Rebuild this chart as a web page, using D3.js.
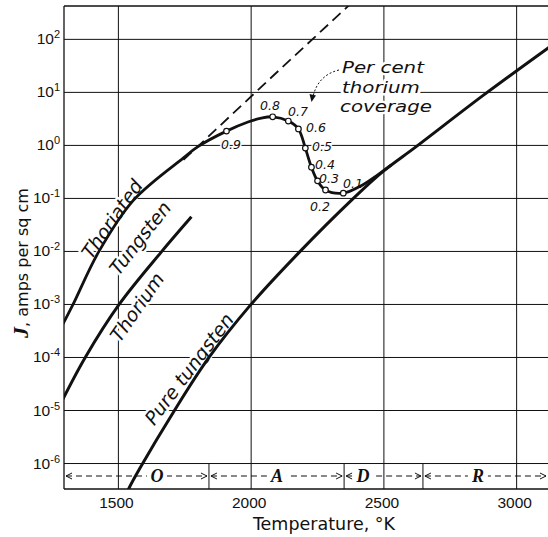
<!DOCTYPE html>
<html><head><meta charset="utf-8">
<script src="https://cdn.jsdelivr.net/npm/d3@7"></script>
<style>
body{margin:0;background:#fff}
svg{display:block}
</style></head><body>
<svg id="chart" width="548" height="537"></svg>
<script>
// Thermionic emission current density J (amps per sq cm) against temperature (°K)

const tempTicks = [1500, 2000, 2500, 3000];
const densityTicks = [1e-6, 1e-5, 1e-4, 1e-3, 1e-2, 1e-1, 1e0, 1e1, 1e2];
const densityExponents = ["-6", "-5", "-4", "-3", "-2", "-1", "0", "1", "2"];

// Pure tungsten
const tungstenT = [1520, 1540, 1585, 1709, 1841, 1999, 2180, 2384, 2500, 2621, 2877, 3125];
const tungstenJ = [1.8e-7, 3.2e-7, 8.3e-7, 9.1e-6, 9.5e-5, 9.5e-4, 9.1e-3, 0.095, 0.32, 0.91, 8.7, 70];

// Thoriated tungsten (through the coverage points, rejoining pure tungsten)
const thoriatedT = [1290, 1332, 1427, 1559, 1747, 1800, 1909, 1990, 2040, 2083, 2142, 2180, 2206, 2229, 2252, 2282, 2349, 2420, 2480, 2530];
const thoriatedJ = [3.9e-4, 1.0e-3, 9.5e-3, 0.091, 0.57, 0.92, 1.82, 2.7, 3.2, 3.39, 2.82, 2.0, 0.87, 0.38, 0.21, 0.141, 0.123, 0.174, 0.275, 0.42];

// Thoriated tungsten extrapolated (dashed)
const extrapT = [1747, 2101, 2400];
const extrapJ = [0.52, 24, 590];

// Thorium
const thoriumT = [1290, 1378, 1506, 1660, 1777];
const thoriumJ = [1.5e-5, 1.0e-4, 1.0e-3, 9.1e-3, 0.044];

// Fractional thorium coverage marked on the thoriated curve
const coverage = ["0.9", "0.8", "0.7", "0.6", "0.5", "0.4", "0.3", "0.2", "0.1"];
const coverageT = [1909, 2083, 2142, 2180, 2206, 2229, 2252, 2282, 2349];
const coverageJ = [1.82, 3.39, 2.82, 2.0, 0.87, 0.38, 0.21, 0.141, 0.123];

// Operating regions along the temperature axis
const regionNames = ["O", "A", "D", "R"];
const regionBounds = [1297, 1843, 2352, 2649, 3120];
const regionLabelT = [1647, 2099, 2423, 2856];

const svg = d3.select("#chart");
const pL = 64, pR = 548, pT = 6, pB = 489;

const x = d3.scaleLinear().domain([1297, 3120]).range([pL, pR]);
const y = d3.scaleLog().domain([Math.pow(10, -6.49), Math.pow(10, 2.62)]).range([pB, pT]);

const ink = "#111";
const labelFont = "'DejaVu Sans', sans-serif";
const tickFont = "'Liberation Sans', Arial, sans-serif";

// Grid from the axes
const xAxis = svg.append("g")
  .attr("transform", `translate(0,${pB})`)
  .call(d3.axisBottom(x).tickValues(tempTicks).tickSize(-(pB - pT)).tickFormat(d3.format("d")));
xAxis.select(".domain").remove();
xAxis.selectAll("line").attr("stroke", ink).attr("stroke-width", 1);
xAxis.selectAll("text")
  .attr("y", 19).attr("dy", 0).attr("dx", -2)
  .attr("fill", ink)
  .style("font-family", tickFont).style("font-size", "15.5px");

const yAxis = svg.append("g")
  .attr("transform", `translate(${pL},0)`)
  .call(d3.axisLeft(y).tickValues(densityTicks).tickSize(-(pR - pL)).tickFormat(""));
yAxis.select(".domain").remove();
yAxis.selectAll("line").attr("stroke", ink).attr("stroke-width", 1);
yAxis.selectAll(".tick").each(function(d, i) {
  const t = d3.select(this).append("text")
    .attr("x", -4).attr("y", 5)
    .attr("text-anchor", "end")
    .attr("fill", ink)
    .style("font-family", tickFont).style("font-size", "15.5px");
  t.append("tspan").text("10");
  t.append("tspan").attr("dy", -6).style("font-size", "11px").text(densityExponents[i]);
});

// Frame
const frame = svg.append("g").attr("stroke", ink).attr("stroke-width", 1.3).attr("fill", "none");
frame.append("line").attr("x1", pL).attr("x2", pL).attr("y1", pT).attr("y2", pB);
frame.append("line").attr("x1", pL).attr("x2", pR).attr("y1", pT).attr("y2", pT);
frame.append("line").attr("x1", pL).attr("x2", pR).attr("y1", pB).attr("y2", pB);

// Region band below 10^-6
const bandTop = y(1e-6), bandMid = (bandTop + pB) / 2;
const band = svg.append("g");
regionBounds.slice(1, -1).forEach(b => {
  band.append("line").attr("x1", x(b)).attr("x2", x(b)).attr("y1", bandTop).attr("y2", pB)
    .attr("stroke", ink).attr("stroke-width", 1);
});
regionNames.forEach((name, i) => {
  const x0 = x(regionBounds[i]) + 2, x1 = x(regionBounds[i + 1]) - 2;
  band.append("line").attr("x1", x0).attr("x2", x1).attr("y1", bandMid).attr("y2", bandMid)
    .attr("stroke", ink).attr("stroke-width", 1).attr("stroke-dasharray", "6,4");
  band.append("path")
    .attr("d", `M${x0 + 6},${bandMid - 3}L${x0},${bandMid}L${x0 + 6},${bandMid + 3}`)
    .attr("stroke", ink).attr("fill", "none").attr("stroke-width", 1);
  band.append("path")
    .attr("d", `M${x1 - 6},${bandMid - 3}L${x1},${bandMid}L${x1 - 6},${bandMid + 3}`)
    .attr("stroke", ink).attr("fill", "none").attr("stroke-width", 1);
  const lx = x(regionLabelT[i]);
  band.append("rect").attr("x", lx - 10).attr("y", bandMid - 8).attr("width", 20).attr("height", 16).attr("fill", "#fff");
  band.append("text").attr("x", lx).attr("y", bandMid + 6).attr("text-anchor", "middle")
    .attr("fill", ink)
    .style("font-family", "'Liberation Serif', serif").style("font-style", "italic").style("font-weight", "bold")
    .style("font-size", "18px").text(name);
});

// Curve labels (white halo breaks the grid beneath)
function halo(sel) {
  return sel.attr("fill", ink).attr("stroke", "#fff").attr("stroke-width", 5)
    .attr("paint-order", "stroke").attr("stroke-linejoin", "round");
}
const curveLabels = [
  {text: "Thoriated", cx: 112, cy: 219, a: -55},
  {text: "Tungsten", cx: 140, cy: 238, a: -52},
  {text: "Thorium", cx: 137, cy: 307, a: -55},
  {text: "Pure tungsten", cx: 189, cy: 369, a: -53}
];
curveLabels.forEach(l => {
  halo(svg.append("text"))
    .attr("transform", `translate(${l.cx},${l.cy}) rotate(${l.a})`)
    .attr("text-anchor", "middle").attr("dy", "0.36em")
    .style("font-family", labelFont).style("font-style", "italic").style("font-size", "19px")
    .text(l.text);
});

// Coverage annotation
const note = ["Per cent", "thorium", "coverage"];
note.forEach((s, i) => {
  halo(svg.append("text"))
    .attr("transform", `translate(${i === 2 ? 340 : 342},${73 + i * 19.5}) scale(1.2,1)`)
    .style("font-family", labelFont).style("font-style", "italic").style("font-size", "16.5px")
    .text(s);
});
svg.append("path")
  .attr("d", "M339,70 C326,73 316,82 313,97")
  .attr("fill", "none").attr("stroke", ink).attr("stroke-width", 1).attr("stroke-dasharray", "2,2");
svg.append("path")
  .attr("d", "M311.5,102 L309.5,94 L316,95.5 Z")
  .attr("fill", ink);

// Coverage value labels
const coverageLabelPos = [[231, 149], [270, 110], [298, 116], [316, 132], [322, 151], [325, 169], [329, 183], [320, 211], [353, 188]];
coverage.forEach((c, i) => {
  halo(svg.append("text")).attr("x", coverageLabelPos[i][0]).attr("y", coverageLabelPos[i][1])
    .attr("stroke-width", 3)
    .attr("text-anchor", "middle")
    .style("font-family", labelFont).style("font-style", "italic").style("font-size", "12.5px")
    .text(c);
});

// Curves
svg.append("defs").append("clipPath").attr("id", "plot")
  .append("rect").attr("x", pL).attr("y", pT).attr("width", pR - pL).attr("height", pB - pT);
const plot = svg.append("g").attr("clip-path", "url(#plot)");
const smooth = d3.line().x(d => x(d[0])).y(d => y(d[1])).curve(d3.curveCatmullRom.alpha(0.5));
const straight = d3.line().x(d => x(d[0])).y(d => y(d[1]));

plot.append("path").datum(d3.zip(extrapT, extrapJ)).attr("d", straight)
  .attr("fill", "none").attr("stroke", ink).attr("stroke-width", 1.8).attr("stroke-dasharray", "11,6");
plot.append("path").datum(d3.zip(tungstenT, tungstenJ)).attr("d", smooth)
  .attr("fill", "none").attr("stroke", ink).attr("stroke-width", 3);
plot.append("path").datum(d3.zip(thoriumT, thoriumJ)).attr("d", smooth)
  .attr("fill", "none").attr("stroke", ink).attr("stroke-width", 3);
plot.append("path").datum(d3.zip(thoriatedT, thoriatedJ)).attr("d", smooth)
  .attr("fill", "none").attr("stroke", ink).attr("stroke-width", 2.8);

plot.selectAll("circle.cov").data(d3.zip(coverageT, coverageJ)).join("circle")
  .attr("class", "cov")
  .attr("cx", d => x(d[0])).attr("cy", d => y(d[1])).attr("r", 2.8)
  .attr("fill", "#fff").attr("stroke", ink).attr("stroke-width", 1.2);

// Axis titles
svg.append("text").attr("x", 324).attr("y", 530).attr("text-anchor", "middle")
  .attr("fill", ink)
  .style("font-family", labelFont).style("font-size", "17.5px")
  .text("Temperature, °K");

const yt = svg.append("text")
  .attr("transform", "translate(28,263) rotate(-90)")
  .attr("text-anchor", "middle").attr("fill", ink)
  .style("font-family", labelFont).style("font-size", "16px");
yt.append("tspan").style("font-family", "'Liberation Serif', serif").style("font-style", "italic")
  .style("font-weight", "bold").style("font-size", "22px").text("J");
yt.append("tspan").text(", amps per sq cm");
</script>
</body></html>
